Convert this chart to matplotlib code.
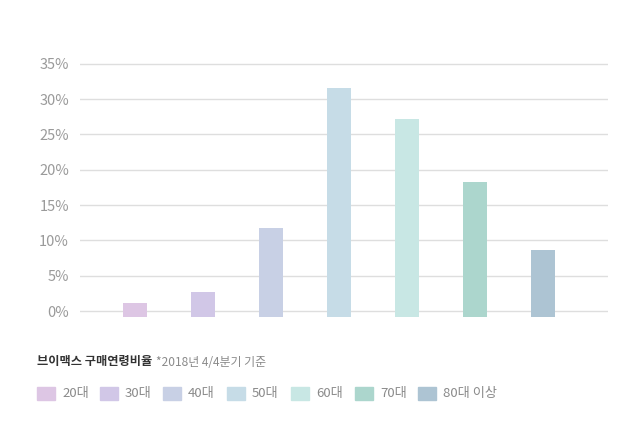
import matplotlib.pyplot as plt
from matplotlib.patches import Rectangle

plt.rcParams['font.family'] = ['Noto Sans CJK KR', 'DejaVu Sans']

# Data for the graph
age_groups = ['20대', '30대', '40대', '50대', '60대', '70대', '80대 이상']
shares = [1.2, 2.7, 11.7, 31.5, 27.2, 18.3, 8.6]
bar_colors = ['#ddc6e4', '#d1c7e7', '#c8d0e5', '#c6dce7', '#c8e7e4', '#acd6cd', '#adc4d3']
y_ticks = [0, 5, 10, 15, 20, 25, 30, 35]

title = '브이맥스 구매연령비율'
note = '*2018년 4/4분기 기준'

W, H = 641, 443
fig = plt.figure(figsize=(W / 100, H / 100), dpi=100)
ax = fig.add_axes([80 / W, 1 - 321.6 / H, 528 / W, 261.4 / H])

# bars sit slightly below the zero line, as in the original artwork
base = -0.8
x = range(len(shares))
ax.bar(x, [v - base for v in shares], bottom=base, width=0.35, color=bar_colors, zorder=3)

ax.set_xlim(-0.81, 6.96)
ax.set_ylim(-1.5, 35.5)
ax.set_yticks(y_ticks)
ax.set_yticklabels([f'{t}%' for t in y_ticks], fontweight='light')
ax.set_xticks([])
ax.grid(axis='y', color='#dedede', linewidth=1, zorder=0)
for s in ax.spines.values():
    s.set_visible(False)
ax.tick_params(axis='y', length=0, pad=8, labelsize=10.5, labelcolor='#9a9a9a')

# title line
fig.text(37 / W, 1 - 362 / H, title, fontsize=8.8, fontweight='bold', color='#333333', va='center')
fig.text(156 / W, 1 - 362 / H, note, fontsize=8.6, fontweight='light', color='#8a8a8a', va='center')

# legend row drawn by hand
leg_x = [37, 100, 163, 227, 291, 355, 418]
for lx, label, c in zip(leg_x, age_groups, bar_colors):
    fig.patches.append(Rectangle((lx / W, 1 - 400 / H), 18 / W, 13 / H,
                                 transform=fig.transFigure, color=c))
    fig.text((lx + 25) / W, 1 - 393.5 / H, label, fontsize=9.5, fontweight='light',
             color='#8a8a8a', va='center')

plt.savefig('out.png', dpi=100)
